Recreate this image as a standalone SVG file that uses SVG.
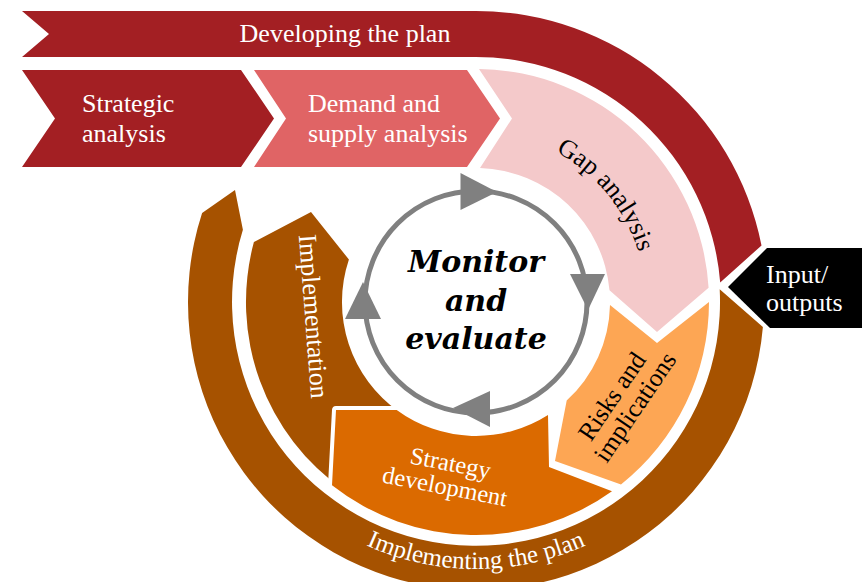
<svg xmlns="http://www.w3.org/2000/svg" width="868" height="582" viewBox="0 0 868 582">
  <defs>
    <style>
      .lbl{font-family:"Liberation Serif","Times New Roman",serif;font-size:26px}
      .w{fill:#fff}
      .k{fill:#000}
      .mid{text-anchor:middle}
      .hub{font-family:"DejaVu Serif",Georgia,serif;font-weight:bold;font-style:italic;font-size:30px;text-anchor:middle;fill:#000}
      .cyc{fill:none;stroke:#808080;stroke-width:5}
      .tri{fill:#808080}
      .red{fill:#A31F23}
      .brown{fill:#A65200}
    </style>
    <!-- baselines for curved labels, all centred on the hub (476,302) -->
    <path id="arcGap" d="M 447.9,134.3 A 170 170 0 0 1 635.2,361.5"/>
    <path id="arcOuterBottom" d="M 244.8,435.5 A 267 267 0 0 0 707.2,435.5"/>
  </defs>

  <!-- outer band: developing the plan -->
  <g id="developing">
    <path class="red" d="M 22,11 L 476,11 A 291 291 0 0 1 761.5,245.5 L 720.2,282.4 A 245 245 0 0 0 476,57 L 22,57 L 49,34 Z"/>
    <text class="lbl w mid" x="345" y="42">Developing the plan</text>
  </g>

  <!-- outer band: implementing the plan -->
  <g id="implementing">
    <path class="brown" d="M 719.7,289.2 L 762.9,327.1 A 288 288 0 1 1 202.1,213 L 235,190 L 242.9,229.8 A 244 244 0 1 0 719.7,289.2 Z"/>
    <text class="lbl w" style="font-size:25px"><textPath href="#arcOuterBottom" startOffset="50%" text-anchor="middle">Implementing the plan</textPath></text>
  </g>

  <!-- input / outputs tag -->
  <g id="io">
    <path fill="#000" d="M 728,287 L 767,248 L 862,248 L 862,328 L 770,328 Z"/>
    <text class="lbl w" x="766" y="283">Input/</text>
    <text class="lbl w" x="766" y="311">outputs</text>
  </g>

  <!-- chevron row -->
  <g id="strategic">
    <path class="red" d="M 22,70 L 241,70 L 274,118.5 L 241,167 L 22,167 L 55,118.5 Z"/>
    <text class="lbl w" x="82" y="112">Strategic</text>
    <text class="lbl w" x="82" y="142">analysis</text>
  </g>
  <g id="demand">
    <path fill="#E06465" d="M 254,70 L 467,70 L 500,118.5 L 467,167 L 254,167 L 286,118.5 Z"/>
    <text class="lbl w" x="308" y="112">Demand and</text>
    <text class="lbl w" x="308" y="142">supply analysis</text>
  </g>

  <!-- inner ring segments -->
  <g id="implementation">
    <path class="brown" d="M 348.9,259.5 L 311,212 L 253.9,242.1 A 230 230 0 0 0 344.1,490.4 L 399.1,411.8 A 134 134 0 0 1 348.9,259.5 Z"/>
    <text class="lbl w mid" transform="translate(305,317) rotate(85.7)">Implementation</text>
  </g>
  <g id="strategy">
    <path fill="#DB6A00" stroke="#fff" stroke-width="8" stroke-linejoin="round" paint-order="stroke" d="M 336,410 L 396.7,410 A 134 134 0 0 0 548,415 L 549,467 L 612,491.2 A 233 233 0 0 1 332,485.2 Z"/>
    <g transform="translate(449,471) rotate(11)">
      <text class="lbl w mid" style="font-size:24.5px" x="0" y="0">Strategy</text>
      <text class="lbl w mid" style="font-size:24.5px" x="-1" y="24">development</text>
    </g>
  </g>
  <g id="risks">
    <path fill="#FDA654" d="M 610,305 L 657,343 L 709,302 A 233 233 0 0 1 621,484.4 L 555,461 L 566.7,400.6 A 134 134 0 0 0 610,305 Z"/>
    <g transform="translate(619,401) rotate(-56)">
      <text class="lbl k mid" style="font-size:25.5px" x="0" y="0">Risks and</text>
      <text class="lbl k mid" style="font-size:25.5px" x="4" y="25">implications</text>
    </g>
  </g>
  <g id="gap">
    <path fill="#F4C9CA" d="M 479,69 A 233 233 0 0 1 708.6,287.8 L 657,332 L 609.5,290.3 A 134 134 0 0 0 480,168.1 L 512,118.5 Z"/>
    <text class="lbl k"><textPath href="#arcGap" startOffset="50%" text-anchor="middle">Gap analysis</textPath></text>
  </g>

  <!-- monitoring cycle -->
  <g id="cycle">
    <circle class="cyc" cx="476" cy="302" r="111"/>
    <path class="tri" d="M 460.5,173 L 460.5,210 L 497,192 Z"/>
    <path class="tri" d="M 570,274 L 605,274 L 588,310 Z"/>
    <path class="tri" d="M 490,391 L 490,427 L 453,408 Z"/>
    <path class="tri" d="M 345,319 L 381,319 L 363,282 Z"/>
  </g>
  <g id="monitor">
    <text class="hub" x="476" y="272">Monitor</text>
    <text class="hub" x="476" y="311">and</text>
    <text class="hub" x="476" y="349">evaluate</text>
  </g>
</svg>
